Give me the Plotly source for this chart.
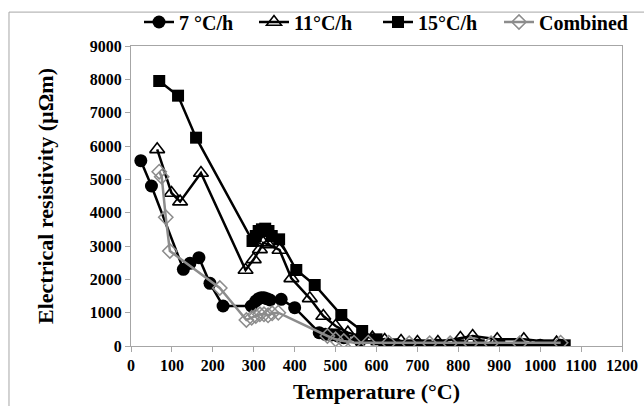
import plotly.graph_objects as go

# Heating-rate series: temperature (°C) and electrical resistivity (µΩm)
t_7 = [24, 50, 128, 144, 166, 193, 225, 294, 305, 312, 318, 325, 332, 340, 367, 400,
       460, 475, 490, 505, 520, 560, 620, 650, 700, 750, 800, 850, 900, 950, 1000, 1050]
r_7 = [5560, 4800, 2300, 2480, 2650, 1880, 1200, 1200, 1350, 1420, 1450, 1450, 1420, 1380, 1400, 1150,
       400, 350, 330, 300, 250, 150, 50, 30, 20, 20, 20, 20, 20, 20, 20, 20]

t_11 = [64, 99, 120, 171, 280, 300, 315, 323, 335, 363, 392, 437, 470, 500, 530, 560, 590,
        620, 660, 700, 750, 805, 835, 895, 960, 1040]
r_11 = [5900, 4590, 4330, 5190, 2280, 2600, 2900, 3100, 3050, 2880, 2030, 1430, 900, 600, 400, 300, 250,
        180, 150, 120, 120, 240, 300, 200, 200, 100]

t_15 = [69, 115, 159, 297, 305, 312, 320, 328, 336, 344, 362, 404, 449, 514, 565, 600,
        640, 680, 720, 760, 800, 850, 900, 1020, 1060]
r_15 = [7950, 7510, 6250, 3150, 3300, 3450, 3500, 3520, 3450, 3300, 3200, 2280, 1830, 930, 450, 200,
        50, 20, 20, 20, 20, 20, 20, 20, 20]

t_comb = [69, 75, 85, 95, 217, 282, 295, 305, 315, 325, 335, 345, 360, 480, 500, 520, 545,
          580, 630, 680, 730, 780, 830, 880, 950, 1050]
r_comb = [5230, 5080, 3860, 2850, 1740, 780, 850, 900, 950, 950, 920, 980, 1000, 300, 200, 150, 100,
          100, 100, 80, 80, 80, 80, 80, 80, 100]

x_ticks = list(range(0, 1201, 100))
y_ticks = list(range(0, 9001, 1000))

FONT = "Liberation Serif"

fig = go.Figure()
fig.add_trace(go.Scatter(
    x=t_7, y=r_7, name="7 °C/h", mode="lines+markers", legend="legend",
    line=dict(color="black", width=2.5),
    marker=dict(symbol="circle", size=13, color="black"),
))
fig.add_trace(go.Scatter(
    x=t_11, y=r_11, name="11°C/h", mode="lines+markers", legend="legend2",
    line=dict(color="black", width=2.5),
    marker=dict(symbol="triangle-up-open", size=13, color="black", line=dict(width=1.6)),
))
fig.add_trace(go.Scatter(
    x=t_15, y=r_15, name="15°C/h", mode="lines+markers", legend="legend3",
    line=dict(color="black", width=2.5),
    marker=dict(symbol="square", size=12, color="black"),
))
fig.add_trace(go.Scatter(
    x=t_comb, y=r_comb, name="Combined", mode="lines+markers", legend="legend4",
    line=dict(color="#8c8c8c", width=2.5),
    marker=dict(symbol="diamond-open", size=11, color="#8c8c8c", line=dict(width=1.5)),
))

axis_common = dict(
    showgrid=False, zeroline=False, showline=True, linecolor="#a6a6a6", linewidth=1,
    mirror=True, ticks="outside", ticklen=5, tickcolor="#a6a6a6",
    tickfont=dict(family=FONT, size=16, color="black", weight="bold"),
)

fig.update_xaxes(
    range=[0, 1200], tickvals=x_ticks,
    title=dict(text="Temperature (°C)", font=dict(family=FONT, size=22, color="black", weight="bold"), standoff=10),
    **axis_common,
)
fig.update_yaxes(
    range=[0, 9000], tickvals=y_ticks,
    title=dict(text="Electrical resistivity (µΩm)", font=dict(family=FONT, size=22, color="black", weight="bold"), standoff=30),
    **axis_common,
)

# outer chart frame (top and left edges)
fig.add_shape(type="line", xref="paper", yref="paper", x0=-0.2485, x1=1.1, y0=1.113, y1=1.113,
              line=dict(color="#a6a6a6", width=1))
fig.add_shape(type="line", xref="paper", yref="paper", x0=-0.2485, x1=-0.2485, y0=1.113, y1=-0.25,
              line=dict(color="#a6a6a6", width=1))


def legend_at(px):
    return dict(
        orientation="h", x=px / 644, xref="container", xanchor="left",
        y=1 - 22 / 406, yref="container", yanchor="middle",
        font=dict(family=FONT, size=20, color="black", weight="bold"),
        itemwidth=30, bgcolor="rgba(0,0,0,0)",
    )


fig.update_layout(
    width=644, height=406,
    margin=dict(l=131, r=22, t=46, b=60, autoexpand=False),
    paper_bgcolor="white", plot_bgcolor="white",
    font=dict(family=FONT, color="black"),
    showlegend=True,
    legend=legend_at(139),
    legend2=legend_at(254),
    legend3=legend_at(378),
    legend4=legend_at(499),
)

fig.write_html("out.html")
